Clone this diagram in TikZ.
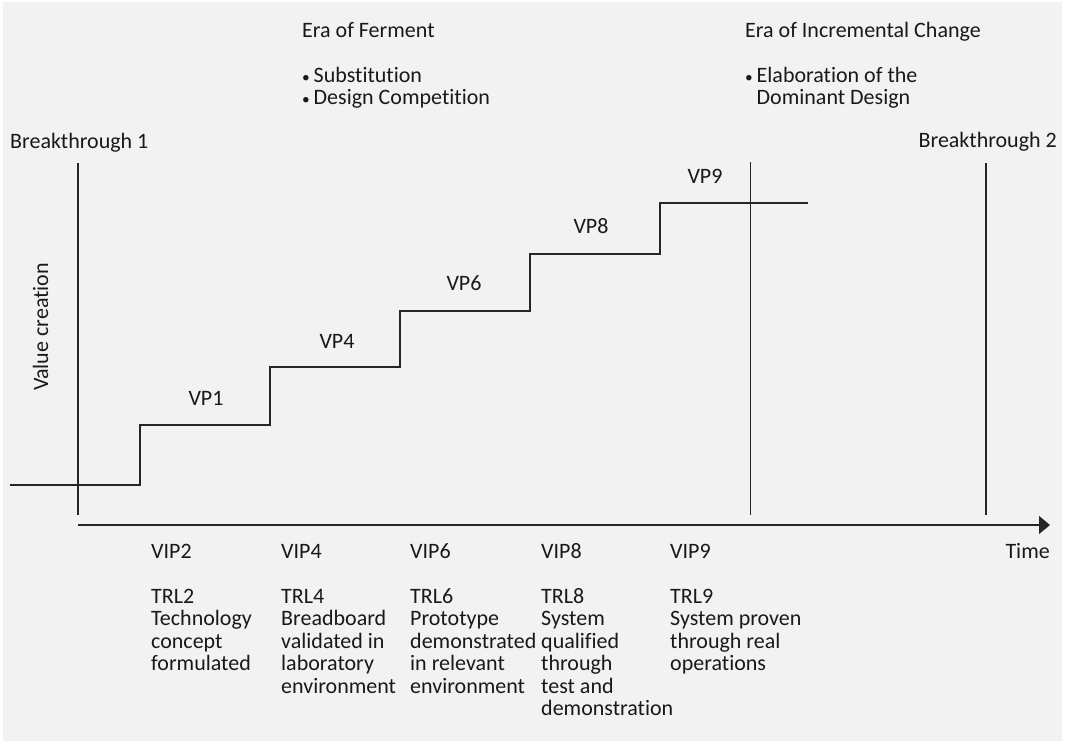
\documentclass[tikz,border=0pt]{standalone}
\usepackage{fontspec}
\setmainfont{Carlito}[Ligatures=NoCommon]
\usetikzlibrary{arrows.meta}
\newcommand{\mlines}[1]{\begin{tabular}[t]{@{}l@{}}#1\end{tabular}}
\newcommand{\bul}{\makebox[11.5pt][l]{\scalebox{0.7}{\textbullet}}}
\begin{document}
\begin{tikzpicture}[x=1pt,y=-1pt,
  lbl/.style={inner sep=0pt,anchor=base west,font=\fontsize{22}{22.5}\selectfont,text=black!90},
  ln/.style={draw=black!85,line width=1.3pt}]
\useasboundingbox (0,0) rectangle (1069,742);
\fill[white] (0,0) rectangle (1069,742);
\fill[black!5] (3,2) rectangle (1062,741);
% top texts
\node[lbl] (era1) at (302,37) {\mlines{Era of Ferment\\ \\ \bul Substitution\\ \bul Design Competition}};
\node[lbl] (era2) at (745,37) {\mlines{Era of Incremental Change\\ \\ \bul Elaboration of the\\ \phantom{\bul}Dominant Design}};
\node[lbl] (b1) at (10,148) {Breakthrough 1};
\node[lbl,anchor=base east] (b2) at (1057,147) {Breakthrough 2};
\node[lbl,anchor=base,rotate=90] (vc) at (48,327) {Value creation};
% vertical lines
\coordinate (l1t) at (78,163); \coordinate (l1b) at (78,515);
\coordinate (l2t) at (750.5,162); \coordinate (l2b) at (750.5,515);
\coordinate (l3t) at (986,163); \coordinate (l3b) at (986,515);
\draw[ln] (l1t) -- (l1b);
\draw[ln] (l2t) -- (l2b);
\draw[ln] (l3t) -- (l3b);
% axis
\coordinate (ax0) at (78,525); \coordinate (ax1) at (1050,525);
\draw[ln,-{Triangle[length=11pt,width=18pt]}] (ax0) -- (ax1);
\node[lbl,anchor=base east] (time) at (1050,558) {Time};
% staircase
\coordinate (s0) at (10,485);
\coordinate (s1) at (140,425);
\coordinate (s2) at (270,367);
\coordinate (s3) at (400,311);
\coordinate (s4) at (530,254);
\coordinate (s5) at (660,203);
\coordinate (s6) at (808,203);
\draw[ln] (s0) -| (s1) -| (s2) -| (s3) -| (s4) -| (s5) -- (s6);
% VP labels
\node[lbl,anchor=base] (vp1) at (206,405) {VP1};
\node[lbl,anchor=base] (vp4) at (337,348) {VP4};
\node[lbl,anchor=base] (vp6) at (464,290) {VP6};
\node[lbl,anchor=base] (vp8) at (591,233) {VP8};
\node[lbl,anchor=base] (vp9) at (705,183) {VP9};
% bottom labels
\node[lbl] (c2) at (151,558) {\mlines{VIP2\\ \\TRL2\\Technology\\concept\\formulated}};
\node[lbl] (c4) at (281,558) {\mlines{VIP4\\ \\TRL4\\Breadboard\\validated in\\laboratory\\environment}};
\node[lbl] (c6) at (410,558) {\mlines{VIP6\\ \\TRL6\\Prototype\\demonstrated\\in relevant\\environment}};
\node[lbl] (c8) at (541,558) {\mlines{VIP8\\ \\TRL8\\System\\qualified\\through\\test and\\demonstration}};
\node[lbl] (c9) at (670,558) {\mlines{VIP9\\ \\TRL9\\System proven\\through real\\operations}};
\end{tikzpicture}
\end{document}
